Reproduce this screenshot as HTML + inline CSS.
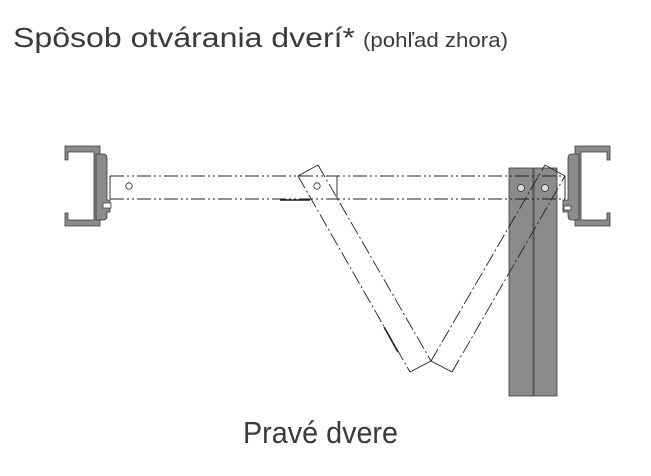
<!DOCTYPE html>
<html><head><meta charset="utf-8"><style>
html,body{margin:0;padding:0;background:#fff;}
svg{display:block;}
text{font-family:"Liberation Sans",sans-serif;fill:#3a3a3a;}
</style></head><body>
<svg width="651" height="476" viewBox="0 0 651 476" xmlns="http://www.w3.org/2000/svg">
<text x="13" y="47" font-size="28" textLength="342" lengthAdjust="spacingAndGlyphs">Spôsob otvárania dverí*</text>
<text x="363" y="47" font-size="20" textLength="145" lengthAdjust="spacingAndGlyphs">(pohľad zhora)</text>
<text x="243" y="443" font-size="31" textLength="155" lengthAdjust="spacingAndGlyphs">Pravé dvere</text>

<g fill="#8b8b8d" stroke="#3a3a3a" stroke-width="0.8">
<path d="M65,146 H100 V226 H65 V213 H68 V220 H94 V152 H68 V160 H65 Z"/>
<path d="M96,154 H103 Q107,154 107,158 V200 H110 V212 H107 V216 Q107,220 103,220 H96 Z"/>
<rect x="103" y="203" width="8" height="5" fill="#fff"/>
<path d="M610,146 H575 V226 H610 V213 H607 V220 H581 V152 H607 V160 H610 Z"/>
<path d="M579,154 H572 Q568,154 568,158 V200 H563 V212 H568 V216 Q568,220 572,220 H579 Z"/>
<rect x="564" y="206" width="7" height="4" fill="#fff"/>
<rect x="509" y="168" width="24" height="228"/>
<rect x="534" y="168" width="23" height="228"/>
</g>

<g fill="none" stroke="#231f20" stroke-width="0.9">
<path d="M110,176 V199"/>
<path d="M110,176 H565" stroke-dasharray="14,3,2,3,2,3"/>
<path d="M110,199 H565" stroke-dasharray="14,3,2,3,2,3"/>
<path d="M337,176 V199"/>
<path d="M565,176 V199"/>
<path d="M280,200 H310" stroke-width="1.6"/>
<path d="M298,176 L318,165"/>
<path d="M318,165 L431,361" stroke-dasharray="14,3,2,3"/>
<path d="M298,176 L410,372" stroke-dasharray="14,3,2,3"/>
<path d="M410,372 L431,361 L452,372"/>
<path d="M384,327 L398,352" stroke-width="1.6"/>
<path d="M431,361 L545,165" stroke-dasharray="14,3,2,3"/>
<path d="M452,372 L565,176" stroke-dasharray="14,3,2,3"/>
<path d="M545,165 L565,176"/>
</g>
<g fill="#fff" stroke="#231f20" stroke-width="0.8">
<circle cx="129" cy="186" r="3.2"/>
<circle cx="317" cy="186" r="3.2"/>
</g>
<g fill="#d8d8d8" stroke="#333" stroke-width="0.8">
<circle cx="521" cy="188" r="3.5"/>
<circle cx="545" cy="188" r="3.5"/>
</g>
</svg>
</body></html>
